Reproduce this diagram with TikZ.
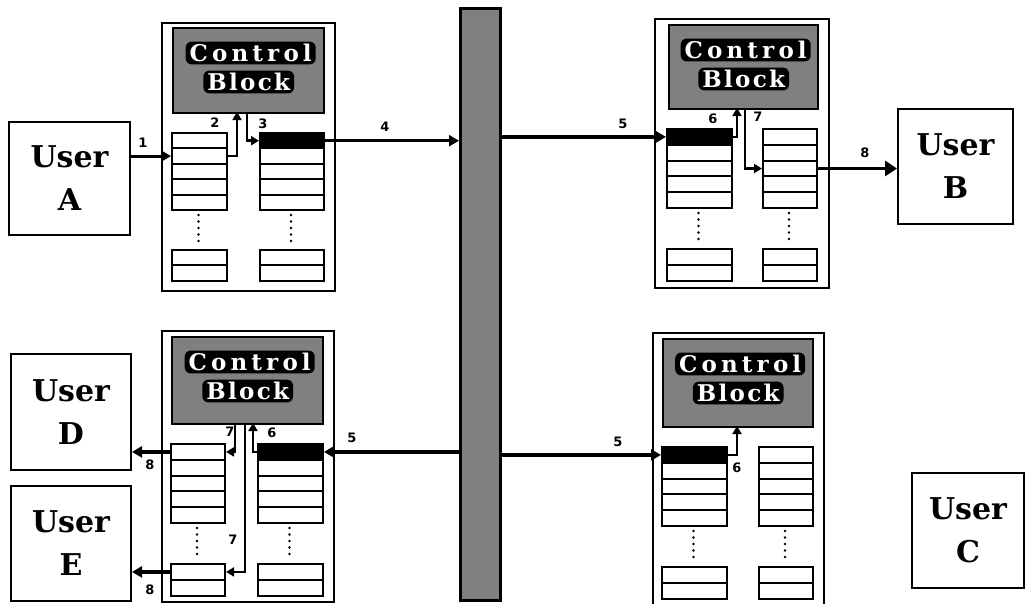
\documentclass[tikz,border=0pt]{standalone}
\usepackage{fontspec}
\setmainfont{DejaVu Serif}
\newfontfamily\userfont{DejaVu Serif}
\newfontfamily\cbfont{DejaVu Serif}[LetterSpace=10]
\newfontfamily\cbwidefont{DejaVu Serif}[LetterSpace=18]
\newfontfamily\lblfont{DejaVu Sans}
\usetikzlibrary{arrows.meta}

\tikzset{
  modbox/.style={draw, line width=2pt, inner sep=0pt, anchor=north west},
  cbbox/.style={draw, line width=2.4pt, fill=black!50, inner sep=0pt, anchor=north west},
  cbtext/.style={fill=black, text=white, rounded corners=6pt, inner xsep=4pt, inner ysep=2.5pt,
     font=\cbfont\bfseries\fontsize{23}{23}\selectfont},
  cbwidetext/.style={cbtext, font=\cbwidefont\bfseries\fontsize{23}{23}\selectfont},
  cell/.style={draw, line width=2pt, fill=white, inner sep=0pt, anchor=north west},
  blackcell/.style={cell, fill=black},
  userbox/.style={draw, line width=2pt, inner sep=0pt, anchor=north west, align=center,
     font=\userfont\bfseries\fontsize{30}{43}\selectfont},
  busbox/.style={draw, line width=2.6pt, fill=black!50, inner sep=0pt, anchor=north west},
  arr/.style={line width=3.2pt, -{Triangle[length=10pt,width=11pt]}},
  bigarr/.style={line width=3.2pt, -{Triangle[length=12pt,width=15pt]}},
  iarr/.style={line width=2.6pt, -{Triangle[length=8pt,width=9pt]}},
  dotline/.style={line width=2.6pt, line cap=round, dash pattern=on 0pt off 6.5pt},
  lbl/.style={font=\lblfont\bfseries\fontsize{13}{13}\selectfont, inner sep=0pt}
}

% #1 name, #2 x, #3 top y, #4 width, #5 row height, #6 top y of lower group, #7 style of first row
\newcommand\qstack[7]{%
  \node[#7, minimum width=#4pt, minimum height=#5pt] (#1-1) at (#2,#3) {};
  \foreach \i in {2,...,5}{%
    \node[cell, minimum width=#4pt, minimum height=#5pt] (#1-\i) at (#2,{#3+(\i-1)*#5}) {};}
  \node[cell, minimum width=#4pt, minimum height=#5pt] (#1-b1) at (#2,#6) {};
  \node[cell, minimum width=#4pt, minimum height=#5pt] (#1-b2) at (#2,{#6+#5}) {};
  \draw[dotline] ({#2+#4/2},{#3+5*#5+6}) -- ({#2+#4/2},{#6-3});
}

% #1 name, #2 x, #3 y, #4 width, #5 height
\newcommand\ctrlblock[5]{%
  \node[cbbox, minimum width=#4pt, minimum height=#5pt] (#1) at (#2,#3) {};
  \node[cbwidetext] (#1-t1) at ([yshift=-26pt,xshift=2pt]#1.north) {Control};
  \node[cbtext] (#1-t2) at ([yshift=-55pt]#1.north) {Block};
}

\begin{document}
\begin{tikzpicture}[x=1pt,y=-1pt]
\useasboundingbox (0,0) rectangle (1026,603);

% bus
\node[busbox, minimum width=40pt, minimum height=592pt] (bus) at (459,7) {};

% users
\node[userbox, minimum width=121pt, minimum height=113pt] (A) at (8,121) {User\\A};
\node[userbox, minimum width=115pt, minimum height=115pt] (B) at (897,108) {User\\B};
\node[userbox, minimum width=112pt, minimum height=115pt] (C) at (911,472) {User\\C};
\node[userbox, minimum width=120pt, minimum height=116pt] (D) at (10,353) {User\\D};
\node[userbox, minimum width=120pt, minimum height=115pt] (E) at (10,485) {User\\E};

% top-left module
\node[modbox, minimum width=173pt, minimum height=268pt] (tl) at (161,22) {};
\ctrlblock{tl-cb}{172}{27}{151}{85}
\qstack{tl-L}{171}{132}{55}{15.4}{249}{cell}
\qstack{tl-R}{259}{132}{64}{15.4}{249}{blackcell}

% top-right module
\node[modbox, minimum width=174pt, minimum height=269pt] (tr) at (654,18) {};
\ctrlblock{tr-cb}{668}{24}{149}{84}
\qstack{tr-L}{666}{128}{65}{15.8}{248}{blackcell}
\qstack{tr-R}{762}{128}{54}{15.8}{248}{cell}

% bottom-left module
\node[modbox, minimum width=172pt, minimum height=271pt] (bl) at (161,330) {};
\ctrlblock{bl-cb}{171}{336}{151}{87}
\qstack{bl-L}{170}{443}{54}{15.8}{563}{cell}
\qstack{bl-R}{257}{443}{65}{15.8}{563}{blackcell}

% bottom-right module
\node[modbox, minimum width=171pt, minimum height=272pt] (br) at (652,332) {};
\ctrlblock{br-cb}{662}{338}{150}{88}
\qstack{br-L}{661}{446}{65}{15.8}{566}{blackcell}
\qstack{br-R}{758}{446}{54}{15.8}{566}{cell}

% connectors, top-left
\coordinate (tl-x2) at (237,112);
\coordinate (tl-x3) at (247,112);
\draw[arr] (A.east |- tl-L-2.west) -- (tl-L-2.west);
\draw[iarr] (tl-L-2.east) -| (tl-x2);
\draw[iarr] (tl-x3) |- (tl-R-1.west);
\draw[arr] (tl-R-1.east) -- (tl-R-1.east -| bus.west);

% connectors, top-right
\coordinate (tr-x6) at (737,108);
\coordinate (tr-x7) at (745,108);
\draw[arr] (bus.east |- tr-L-1.west) -- (tr-L-1.west);
\draw[iarr] (tr-L-1.east) -| (tr-x6);
\draw[iarr] (tr-x7) |- (tr-R-3.west);
\draw[bigarr] (tr-R-3.east) -- (tr-R-3.east -| B.west);

% connectors, bottom-left
\coordinate (bl-x6) at (253,423);
\coordinate (bl-x7a) at (235,423);
\coordinate (bl-x7b) at (245,423);
\draw[arr] (bus.west |- bl-R-1.east) -- (bl-R-1.east);
\draw[iarr] (bl-R-1.west) -| (bl-x6);
\draw[iarr] (bl-x7a) |- (bl-L-1.east);
\draw[iarr] (bl-x7b) |- (bl-L-b1.east);
\draw[arr] (bl-L-1.west) -- (bl-L-1.west -| D.east);
\draw[arr] (bl-L-b1.west) -- (bl-L-b1.west -| E.east);

% connectors, bottom-right
\coordinate (br-x6) at (737,426);
\draw[arr] (bus.east |- br-L-1.west) -- (br-L-1.west);
\draw[iarr] (br-L-1.east) -| (br-x6);

% step labels
\node[lbl] (n1) at (143,143) {1};
\node[lbl] (n2) at (215,123) {2};
\node[lbl] (n3) at (263,124) {3};
\node[lbl] (n4) at (385,127) {4};
\node[lbl] (n5a) at (623,124) {5};
\node[lbl] (n6a) at (713,119) {6};
\node[lbl] (n7a) at (758,117) {7};
\node[lbl] (n8a) at (865,153) {8};
\node[lbl] (n5b) at (352,438) {5};
\node[lbl] (n6b) at (272,433) {6};
\node[lbl] (n7b) at (230,432) {7};
\node[lbl] (n7c) at (233,540) {7};
\node[lbl] (n8b) at (150,465) {8};
\node[lbl] (n8c) at (150,590) {8};
\node[lbl] (n5c) at (618,442) {5};
\node[lbl] (n6c) at (737,468) {6};
\end{tikzpicture}
\end{document}
